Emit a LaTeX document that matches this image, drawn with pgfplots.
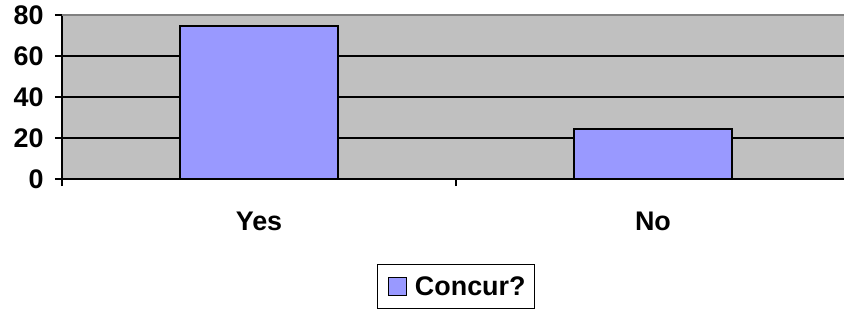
\documentclass[border=0pt]{standalone}
\usepackage{pgfplots}
\pgfplotsset{compat=1.18}
\usepackage{fontspec}
\setmainfont{Liberation Sans}
\definecolor{plotgray}{HTML}{C0C0C0}
\definecolor{barblue}{HTML}{9999FF}
\definecolor{bordergray}{HTML}{808080}
\begin{document}
\begin{tikzpicture}
\useasboundingbox (-62bp,-133bp) rectangle (782bp,179bp);
\begin{axis}[
  at={(0,0)}, anchor=south west,
  scale only axis, width=788bp, height=164bp,
  xmin=-0.5, xmax=1.5, ymin=0, ymax=80,
  ytick={0,20,40,60,80},
  xtick={-0.5,0.5,1.5}, xticklabels={},
  extra x ticks={0,1}, extra x tick labels={Yes,No},
  extra x tick style={major tick length=0pt, grid=none,
     tick label style={yshift=-29bp}},
  axis x line*=bottom, axis y line*=left,
  axis line style={black, line width=1.5bp, -},
  tick align=outside, major tick length=7bp,
  tick style={black, line width=1.5bp},
  axis background/.style={fill=plotgray},
  ymajorgrids, major grid style={black, line width=1.5bp},
  /pgf/number format/assume math mode=true,
  tick label style={font=\bfseries\fontsize{27}{32}\selectfont},
  yticklabel style={xshift=-8bp},
  legend style={at={(0.5,-0.518)}, anchor=north, draw=black, line width=1bp,
     font=\bfseries\fontsize{27}{32}\selectfont, inner xsep=7bp, inner ysep=10bp},
  clip=false,
]
\addplot[ybar, bar width=158bp, fill=barblue, draw=black, line width=1.5bp,
  legend image code/.code={\draw[fill=barblue, draw=black, line width=1bp] (3bp,-9bp) rectangle (21bp,9bp); \path (0bp,0bp) (27bp,0bp);}]
  coordinates {(0,74.6) (1,24.4)};
\addlegendentry{Concur?}
\draw[bordergray, line width=1.5bp] (rel axis cs:0,1) -- (rel axis cs:1,1);
\end{axis}
\end{tikzpicture}
\end{document}
